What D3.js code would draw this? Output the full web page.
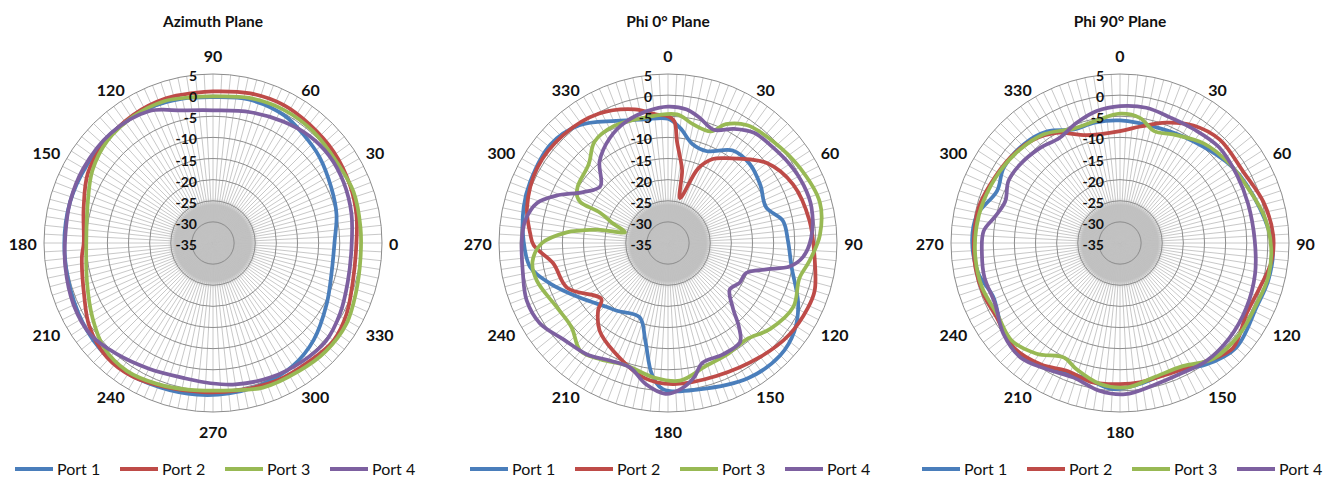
<!DOCTYPE html>
<html>
<head>
<meta charset="utf-8">
<script src="https://cdn.jsdelivr.net/npm/d3@7"></script>
<style>
	body { margin: 0; background: #fff; }
	svg { display: block; }
	text { font-family: Lato, "Open Sans", sans-serif; fill: #111; }
</style>
</head>
<body>
<div id="chart"></div>
<script>
var seriesNames = ['Port 1', 'Port 2', 'Port 3', 'Port 4']
var colors = ['#4A7EBB', '#BE4B48', '#98B954', '#7D60A0']
var ringTicks = [5, 0, -5, -10, -15, -20, -25, -30, -35]
var angleTicks = [0, 30, 60, 90, 120, 150, 180, 210, 240, 270, 300, 330]
var spokeAngles = d3.range(0, 360, 3)

// [angle in degrees, gain in dB]
var azPort1 = [[90,-0.5],[76,0],[61,-0.4],[50,-1.6],[39,-2.6],[25,-4.1],[13,-5.0],[1,-6.2],[345,-6.0],[332,-4.5],[316,-1.9],[303,-0.3],[290,0.4],[276,0.8],[264,1.1],[250,1.4],[235,1.9],[219,1.5],[203,0.7],[182,0.2],[164,0.2],[148,0.1],[132,0.4],[115,0.3],[102,-0.1]]
var azPort2 = [[90,0.9],[76,1.5],[63,1.7],[51,1.2],[37,0.8],[23,0.2],[11,-0.4],[358,-1.1],[345,-0.7],[332,0.8],[321,1.7],[309,1.1],[295,0.9],[279,0.4],[266,0.4],[252,0.9],[239,1.9],[227,1.9],[214,0.3],[202,-2.1],[186,-3.8],[180,-4.4],[165,-3.3],[151,-1.1],[138,-0.1],[122,0.7],[108,1.0],[97,0.8]]
var azPort3 = [[90,-0.3],[76,0.4],[62,0.7],[48,0.5],[33,0.0],[20,0.4],[6,0.1],[354,0.1],[341,0.8],[329,1.9],[316,2.0],[304,1.5],[289,1.2],[274,0.0],[261,0.2],[248,0.9],[236,1.5],[224,0.8],[212,-1.4],[197,-3.8],[180,-5.0],[161,-3.7],[149,-1.7],[136,-0.2],[122,0.4],[109,0.5],[99,-0.1]]
var azPort4 = [[90,-3.6],[74,-2.8],[60,-1.8],[48,-0.9],[37,-0.6],[25,-0.9],[12,-1.5],[358,-2.2],[344,-1.8],[331,-0.6],[319,0.4],[307,0.1],[293,-0.4],[279,-1.1],[269,-1.8],[258,-2.3],[243,-1.6],[229,-0.2],[217,1.2],[204,1.1],[189,0.4],[177,0.0],[164,0.2],[150,0.4],[133,0.5],[116,-0.3],[103,-2.8]]

var phi0Port1 = [[0,-5.6],[6,-7.6],[14,-10.9],[23,-11.4],[35,-8.3],[46,-8.1],[58,-9.2],[70,-10.3],[79,-7.3],[89,-6.6],[101,-5.2],[115,-1.0],[125,1.5],[135,2.6],[149,2.2],[168,0.4],[182,-0.4],[187,-3.7],[193,-11.2],[201,-16.2],[217,-14.9],[224,-14.0],[238,-10.5],[251,-5.5],[260,-1.9],[271,-0.8],[284,0.2],[294,0.7],[310,1.3],[323,-0.1],[337,-3.6],[349,-5.2]]
var phi0Port2 = [[0,-5.0],[3,-6.2],[5,-10.8],[8,-14.5],[11,-17.5],[15,-24],[22,-16],[28,-12.5],[35,-10.5],[51,-4.9],[65,-2.3],[81,-1.1],[96,-0.1],[108,1.5],[115,1.5],[127,1.0],[141,-0.3],[160,-1.5],[178,-1.6],[190,-2.6],[207,-6.4],[218,-8.7],[226,-12],[230,-14.4],[246,-8.9],[260,-7.4],[269,-3.2],[274,-2.3],[284,-0.6],[300,0.7],[316,0.6],[332,-0.3],[346,-2.4],[355,-4.5]]
var phi0Port3 = [[4,-4.5],[12,-6.3],[21,-6.7],[26,-3.7],[34,-1.4],[46,-0.4],[60,0.9],[75,2.2],[87,1.0],[97,-1.2],[105,-2.8],[117,-1.7],[130,-3.4],[141,-5.6],[151,-5.2],[163,-4.5],[175,-2.3],[186,-3.0],[199,-4.4],[210,-3.2],[219,-2.1],[229,-4.7],[240,-4.6],[254,-2.7],[262,-2.6],[270,-5.2],[276,-10.9],[278,-14],[281,-18.6],[284,-24.5],[290,-20.8],[294,-17.4],[295,-12.2],[297,-10.9],[302,-9.8],[315,-8.5],[324,-5.4],[335,-4.5],[349,-4.8]]
var phi0Port4 = [[0,-2.7],[8,-3.1],[14,-4.4],[22,-6.1],[30,-3.8],[38,-1.9],[46,-1.5],[57,-0.7],[67,-0.1],[76,0],[88,-1.1],[96,-2.9],[101,-5.7],[105,-10.9],[111,-15.2],[119,-15.6],[127,-16.7],[135,-13.3],[140,-8.8],[144,-6.0],[154,-5.6],[164,-5.5],[169,-2.6],[175,-0.3],[181,0.7],[189,-1.2],[197,-4.2],[206,-4.0],[216,-2.4],[227,-1.4],[238,0.8],[248,1.1],[258,0.1],[271,-0.4],[279,-0.8],[287,-2.6],[293,-6.3],[301,-11.6],[310,-14.1],[320,-9.8],[331,-6.6],[341,-4.6],[351,-3.4]]

var phi90Port1 = [[0,-6],[18,-6.3],[36,-5.3],[56,-2.9],[76,-0.9],[92,1.2],[104,1.2],[115,0.7],[132,2.0],[145,0.2],[157,-2.2],[172,-1.3],[183,-0.4],[195,-2.0],[209,-0.9],[222,0.4],[234,-0.6],[247,-2.4],[258,-0.7],[271,0],[281,-0.5],[293,-3.4],[303,-2.2],[316,-2.4],[327,-3.5],[338,-6.0],[348,-5.9]]
var phi90Port2 = [[0,-8.5],[10,-7],[21,-4.5],[32,-2.2],[44,-1.0],[60,-1.3],[74,0.3],[87,1.3],[97,1.1],[108,-0.3],[119,-0.7],[133,1.5],[144,-0.4],[158,-1.9],[172,-1.7],[180,-1.6],[191,-1.4],[203,-2.2],[213,-0.7],[226,0.3],[239,-0.9],[249,-0.5],[260,-0.3],[271,-0.4],[284,-0.5],[294,-1.3],[308,-2.1],[320,-3.1],[330,-4.9],[343,-8.3]]
var phi90Port3 = [[0,-4.4],[9,-5.0],[17,-7.3],[26,-6.4],[40,-4.2],[54,-3.0],[68,-1.9],[80,-0.2],[92,0.8],[103,1.0],[114,0.4],[127,0.6],[141,0.2],[153,-2.3],[166,-2.2],[177,-0.8],[188,-1.3],[199,-3.4],[206,-4.8],[217,-2.2],[228,-0.5],[240,-1.4],[252,-0.7],[264,-0.6],[276,-0.8],[287,-1.2],[301,-1.9],[313,-2.6],[325,-3.6],[338,-5.8],[349,-5.5]]
var phi90Port4 = [[0,-2.6],[11,-2.4],[22,-3.0],[33,-2.9],[46,-2.4],[60,-3.0],[73,-3.3],[89,-3.1],[103,-2.2],[117,-1.4],[131,-0.7],[144,-0.4],[155,-0.9],[167,-0.4],[178,0.8],[188,0.3],[199,-1.3],[210,-0.5],[221,0.9],[232,0],[244,-2.1],[256,-1.9],[265,-2.2],[275,-2.6],[282,-4.8],[290,-6.1],[299,-4.8],[308,-4.9],[320,-5.6],[330,-6.3],[340,-4.8],[350,-3.3]]

var charts = [
	{ cx: 213, title: 'Azimuth Plane', dir: function (a) { return 90 - a }, data: [azPort1, azPort2, azPort3, azPort4] },
	{ cx: 668, title: 'Phi 0° Plane', dir: function (a) { return a }, data: [phi0Port1, phi0Port2, phi0Port3, phi0Port4] },
	{ cx: 1120, title: 'Phi 90° Plane', dir: function (a) { return a }, data: [phi90Port1, phi90Port2, phi90Port3, phi90Port4] }
]

var width = 1338,
	height = 479
var cy = 243,
	radius = 169

var svg = d3.select('#chart').append('svg')
	.attr('width', width)
	.attr('height', height)

var r = d3.scaleLinear()
	.domain([-35, 5])
	.range([0, radius])

var grad = svg.append('defs').append('radialGradient').attr('id', 'hub')
grad.append('stop').attr('offset', '0%').attr('stop-color', '#c0c0c0')
grad.append('stop').attr('offset', '84%').attr('stop-color', '#c0c0c0')
grad.append('stop').attr('offset', '100%').attr('stop-color', '#c0c0c0').attr('stop-opacity', 0)

function norm(t) {
	var tau = 2 * Math.PI
	return ((t % tau) + tau) % tau
}

// where Excel-like angle labels sit around the rim
function labelPos(t, txt) {
	var w = String(txt).length * 9.5,
		s = Math.sin(t), c = Math.cos(t)
	var sx = Math.abs(s) < 0.01 ? 0 : Math.sign(s),
		sy = Math.abs(c) < 0.01 ? 0 : Math.sign(c)
	var x = 176 * s + sx * w / 2
	var y = -(170 * c + sy * 6 + (Math.abs(c) > 0.99 ? sy * 12 : 0))
	return [x, y]
}

charts.forEach(function (c) {
	var g = svg.append('g').attr('transform', 'translate(' + c.cx + ',' + cy + ')')
	var toRad = function (a) { return c.dir(a) * Math.PI / 180 }

	// gridlines
	g.append('circle').attr('r', r(-24.3)).attr('fill', 'url(#hub)')

	g.selectAll('.spoke').data(spokeAngles).enter().append('line')
		.attr('class', 'spoke')
		.attr('x1', 0).attr('y1', 0)
		.attr('x2', function (d) { return r(5) * Math.sin(toRad(d)) })
		.attr('y2', function (d) { return -r(5) * Math.cos(toRad(d)) })
		.attr('stroke', '#c2c2c2')
		.attr('stroke-width', 0.9)

	g.selectAll('.ring').data(ringTicks.filter(function (v) { return v > -35 })).enter().append('circle')
		.attr('class', 'ring')
		.attr('r', function (d) { return r(d) })
		.attr('fill', 'none')
		.attr('stroke', '#8c8c8c')
		.attr('stroke-width', 1)

	// series
	var line = d3.lineRadial()
		.angle(function (d) { return toRad(d[0]) })
		.radius(function (d) { return r(d[1]) })
		.curve(d3.curveCatmullRomClosed.alpha(0.5))

	c.data.forEach(function (s, i) {
		var pts = s.slice().sort(function (a, b) { return norm(toRad(a[0])) - norm(toRad(b[0])) })
		g.append('path')
			.attr('d', line(pts))
			.attr('fill', 'none')
			.attr('stroke', colors[i])
			.attr('stroke-width', 3.75)
			.attr('stroke-linejoin', 'round')
	})

	// value labels
	g.selectAll('.rlab').data(ringTicks).enter().append('text')
		.attr('class', 'rlab')
		.attr('x', -16)
		.attr('y', function (d) { return -r(d) + 1.5 })
		.attr('text-anchor', 'end')
		.attr('dominant-baseline', 'central')
		.style('font-size', '14px')
		.style('font-weight', 'bold')
		.text(function (d) { return d })

	// angle labels
	g.selectAll('.alab').data(angleTicks).enter().append('text')
		.attr('class', 'alab')
		.attr('text-anchor', 'middle')
		.attr('dominant-baseline', 'central')
		.style('font-size', '16px')
		.style('font-weight', 'bold')
		.attr('x', function (d) { return labelPos(toRad(d), d)[0] })
		.attr('y', function (d) { return labelPos(toRad(d), d)[1] })
		.text(function (d) { return d })

	// title
	svg.append('text')
		.attr('x', c.cx)
		.attr('y', 21)
		.attr('text-anchor', 'middle')
		.attr('dominant-baseline', 'central')
		.style('font-size', '15.5px')
		.style('font-weight', 'bold')
		.text(c.title)

	// legend
	var lg = svg.append('g').attr('transform', 'translate(' + (c.cx - 198) + ',468)')
	seriesNames.forEach(function (name, i) {
		var x0 = i * 105
		lg.append('line')
			.attr('x1', x0).attr('x2', x0 + 38)
			.attr('y1', 1).attr('y2', 1)
			.attr('stroke', colors[i])
			.attr('stroke-width', 4)
		lg.append('text')
			.attr('x', x0 + 42)
			.attr('y', 0)
			.attr('dominant-baseline', 'central')
			.style('font-size', '16px')
			.text(name)
	})
})
</script>
</body>
</html>
